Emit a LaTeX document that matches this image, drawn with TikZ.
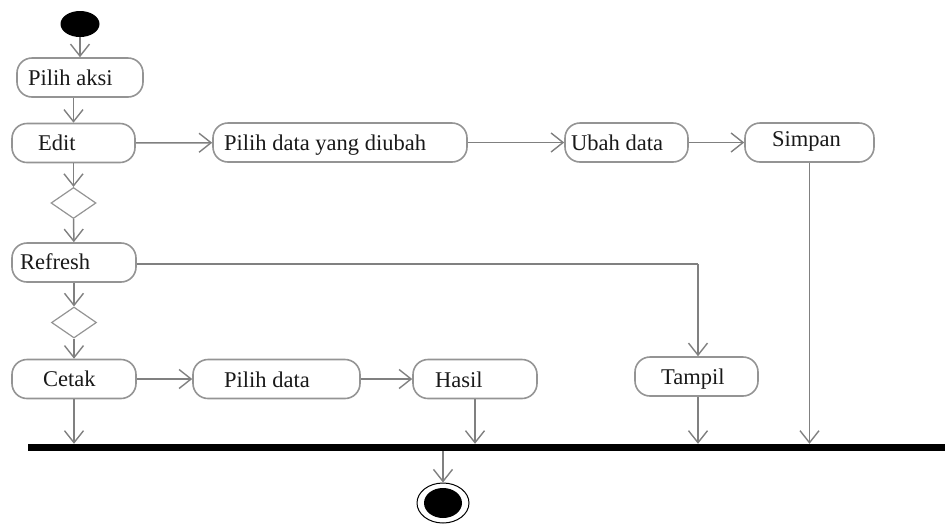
\documentclass[tikz,border=0pt]{standalone}
\usepackage{fontspec}
\setmainfont{Liberation Serif}
\usetikzlibrary{arrows.meta,shapes.geometric}
\begin{document}
\begin{tikzpicture}[x=1pt,y=-1pt,
  box/.style={draw=black!42,line width=1.6pt,rounded corners=15pt,minimum height=39pt,inner sep=0pt},
  txt/.style={inner sep=0pt,anchor=base west,text=black!90,font=\fontsize{22.5}{26}\selectfont},
  dec/.style={draw=black!42,line width=1.2pt,diamond,minimum width=45pt,minimum height=31pt,inner sep=0pt},
  flow/.style={draw=black!50,line width=1.5pt,-{Straight Barb[length=12pt,width=19pt,line width=1.4pt]}},
  plain/.style={draw=black!50,line width=1.3pt}]
\useasboundingbox (0,0) rectangle (945,523);
% start
\node[ellipse,fill=black,minimum width=39pt,minimum height=26pt,inner sep=0pt] (start) at (80,24) {};
% boxes
\node[box,minimum width=126pt] (pa) at (80,77.5) {};
\node[txt] (pat) at (28,85) {Pilih aksi};
\node[box,minimum width=123pt] (edit) at (73.5,143) {};
\node[txt] (editt) at (38,150) {Edit};
\node[box,minimum width=254pt] (pdu) at (340,142.5) {};
\node[txt] (pdut) at (224,150) {Pilih data yang diubah};
\node[box,minimum width=123pt] (ubah) at (626.5,142.5) {};
\node[txt] (ubaht) at (571,150) {Ubah data};
\node[box,minimum width=129pt] (simpan) at (809.5,142.5) {};
\node[txt] (simpant) at (772,146) {Simpan};
\node[dec] (d1) at (73.5,203) {};
\node[box,minimum width=124pt] (refresh) at (74,262.5) {};
\node[txt] (refresht) at (20,269) {Refresh};
\node[dec] (d2) at (74,322.5) {};
\node[box,minimum width=124pt] (cetak) at (74,379) {};
\node[txt] (cetakt) at (43,386) {Cetak};
\node[box,minimum width=167pt] (pd) at (276.5,379) {};
\node[txt] (pdt) at (224,387) {Pilih data};
\node[box,minimum width=124pt] (hasil) at (475,379) {};
\node[txt] (hasilt) at (435,387) {Hasil};
\node[box,minimum width=123pt] (tampil) at (696.5,376.5) {};
\node[txt] (tampilt) at (661,384) {Tampil};
% bar
\node[fill=black,minimum width=917pt,minimum height=7pt,inner sep=0pt] (bar) at (486.5,447.5) {};
% end
\node[ellipse,draw=black,line width=1pt,minimum width=52pt,minimum height=40pt,inner sep=0pt] (endo) at (443,503) {};
\node[ellipse,fill=black,minimum width=38pt,minimum height=30pt,inner sep=0pt] (endi) at (443,503) {};
% connectors
\draw[flow] (start) -- (pa);
\draw[flow] (edit |- pa.south) -- (edit);
\draw[flow] (edit) -- (pdu);
\draw[flow] (pdu) -- (ubah);
\draw[flow] (ubah) -- (simpan);
\draw[flow] (edit) -- (d1);
\draw[flow] (d1) -- (refresh);
\draw[flow] (refresh) -- (d2);
\draw[flow] (d2) -- (cetak);
\draw[flow] (cetak) -- (pd);
\draw[flow] (pd) -- (hasil);
\coordinate (rc) at (698,264);
\draw[plain] (refresh.east |- rc) -- (rc);
\draw[flow] (rc) -- (tampil.north -| rc);
\draw[flow] (cetak) -- (cetak |- bar.north);
\draw[flow] (hasil) -- (hasil |- bar.north);
\draw[flow] (tampil.south -| rc) -- (rc |- bar.north);
\draw[flow] (simpan) -- (simpan |- bar.north);
\draw[flow] (endo |- bar.south) -- (endo);
\end{tikzpicture}
\end{document}
